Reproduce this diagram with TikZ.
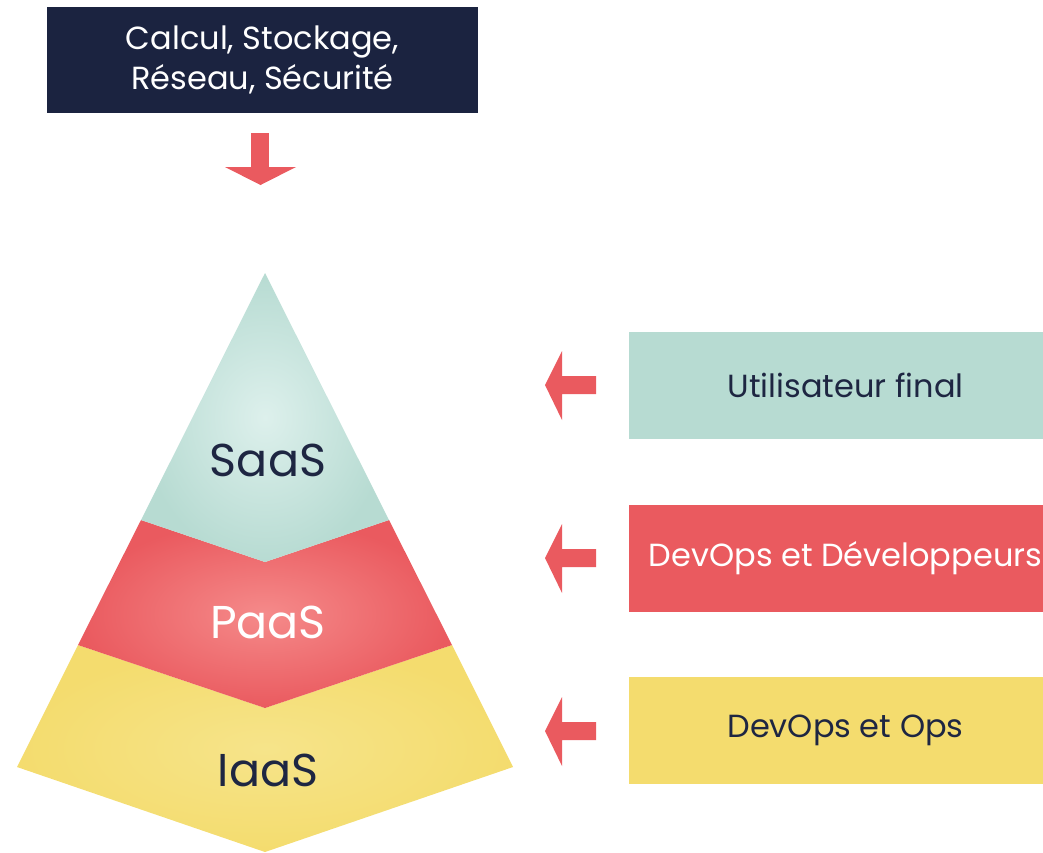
\documentclass[tikz,border=0pt]{standalone}
\usepackage{fontspec}
\setmainfont{Poppins}
\usepackage{xcolor}

\definecolor{navy}{HTML}{1B2340}
\definecolor{inknavy}{HTML}{1E2642}
\definecolor{teal}{HTML}{B7DBD2}
\definecolor{teallight}{HTML}{DDF0EC}
\definecolor{coral}{HTML}{EA5A5F}
\definecolor{corallight}{HTML}{F58A8A}
\definecolor{sun}{HTML}{F4DC6E}
\definecolor{sunlight}{HTML}{F6E48A}

\tikzset{
  rolebox/.style={minimum width=433pt, minimum height=107pt, inner sep=0pt, font=\fontsize{32}{38}\selectfont},
  layerlabel/.style={font=\fontsize{46}{52}\selectfont}
}

\begin{document}
\begin{tikzpicture}[x=1pt,y=-1pt]
\useasboundingbox (0,0) rectangle (1043,852);

% Resources box
\node[fill=navy, text=white, align=center, minimum width=431pt, minimum height=106pt, inner sep=0pt,
      font=\fontsize{32}{40}\selectfont] (infra) at (262.5,60) {Calcul, Stockage,\\Réseau, Sécurité};

% Down arrow
\fill[coral] (251,133) rectangle (269,168);
\fill[coral] (225,167) -- (296,167) -- (260.5,185) -- cycle;

% Pyramid layers
\shade[inner color=sunlight, outer color=sun] (78,645) -- (265,708) -- (452,645) -- (513,767) -- (265,852) -- (17,767) -- cycle;
\shade[inner color=corallight, outer color=coral] (141,520) -- (265,562) -- (389,520) -- (452,645) -- (265,708) -- (78,645) -- cycle;
\shade[inner color=teallight, outer color=teal] (265,273) -- (389,520) -- (265,562) -- (141,520) -- cycle;

\node[layerlabel, text=inknavy] (saas) at (268,460) {SaaS};
\node[layerlabel, text=white] (paas) at (268,622) {PaaS};
\node[layerlabel, text=inknavy] (iaas) at (268,770) {IaaS};

% Roles
\node[rolebox, fill=teal, text=inknavy] (user) at (845.5,385.5) {Utilisateur final};
\node[rolebox, fill=coral, text=white] (devs) at (845.5,558) {DevOps et Développeurs};
\node[rolebox, fill=sun, text=inknavy] (ops) at (845.5,730.5) {DevOps et Ops};

% Left arrows
\fill[coral] (545,385) -- (562,351) -- (562,376) -- (596,376) -- (596,394) -- (562,394) -- (562,420) -- cycle;
\fill[coral] (545,558) -- (562,524) -- (562,549) -- (596,549) -- (596,567) -- (562,567) -- (562,593) -- cycle;
\fill[coral] (545,731) -- (562,697) -- (562,722) -- (596,722) -- (596,740) -- (562,740) -- (562,766) -- cycle;
\end{tikzpicture}
\end{document}
